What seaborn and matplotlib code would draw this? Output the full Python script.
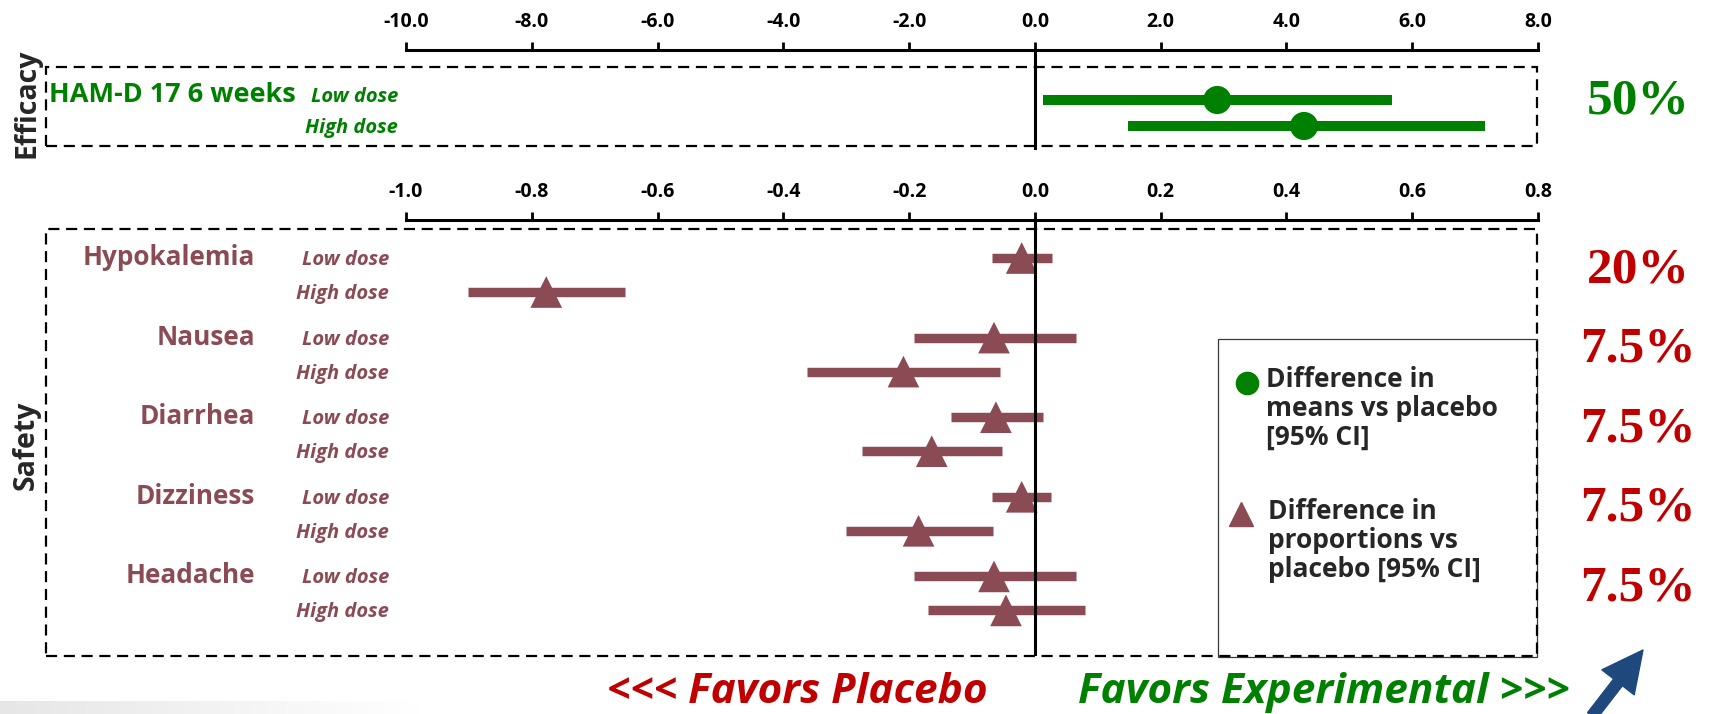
import numpy as np
import pandas as pd
import matplotlib.pyplot as plt
import seaborn as sns
from matplotlib.patches import Rectangle
from matplotlib.lines import Line2D
from matplotlib.transforms import blended_transform_factory
from matplotlib.colors import LinearSegmentedColormap

# Efficacy: HAM-D 17 at 6 weeks, difference in means vs placebo
eff_label = 'HAM-D 17 6 weeks'
eff_doses = ['Low dose', 'High dose']
eff_est = [2.90, 4.28]
eff_lo = [0.13, 1.48]
eff_hi = [5.68, 7.15]
eff_pct = '50%'

# Safety: difference in proportions vs placebo
ae_names = ['Hypokalemia', 'Nausea', 'Diarrhea', 'Dizziness', 'Headache']
low_est = [-0.021, -0.065, -0.062, -0.021, -0.065]
low_lo = [-0.068, -0.192, -0.134, -0.068, -0.192]
low_hi = [0.027, 0.065, 0.013, 0.026, 0.065]
high_est = [-0.777, -0.209, -0.164, -0.185, -0.046]
high_lo = [-0.901, -0.363, -0.275, -0.300, -0.170]
high_hi = [-0.651, -0.056, -0.052, -0.067, 0.079]
ae_pct = ['20%', '7.5%', '7.5%', '7.5%', '7.5%']

top_ticks = [-10, -8, -6, -4, -2, 0, 2, 4, 6, 8]
bottom_ticks = [-1.0, -0.8, -0.6, -0.4, -0.2, 0.0, 0.2, 0.4, 0.6, 0.8]

GREEN = '#008000'
MAROON = '#8B4B55'
RED = '#C00000'
BLUE = '#1F497D'

sns.set_style('white')
plt.rcParams['font.family'] = ['Open Sans', 'DejaVu Sans']

W, H = 1709, 714
fig = plt.figure(figsize=(W / 100, H / 100), dpi=100)


def fx(px):
    return px / W


def fy(py):
    return 1 - py / H


def px_axes(left, top, right, bottom):
    ax = fig.add_axes([fx(left), fy(bottom), (right - left) / W, (bottom - top) / H])
    ax.set_facecolor('none')
    return ax


def style_axis(ax, ticks, fmt):
    ax.xaxis.tick_top()
    ax.set_xticks(ticks, [fmt % t for t in ticks], fontweight='bold', fontsize=14)
    ax.tick_params(axis='x', direction='out', length=6, width=2, pad=7, colors='black')
    ax.set_yticks([])
    for side in ['left', 'right', 'bottom']:
        ax.spines[side].set_visible(False)
    ax.spines['top'].set_linewidth(2.2)
    ax.spines['top'].set_color('black')
    ax.set(xlabel='', ylabel='')


def dashed_box(left, top, right, bottom):
    fig.add_artist(Rectangle((fx(left), fy(bottom)), (right - left) / W, (bottom - top) / H,
                             transform=fig.transFigure, fill=False, ec='black',
                             lw=1.6, ls=(0, (5, 3))))


# ---------------- Efficacy panel ----------------
eff_df = pd.DataFrame({'dose': eff_doses, 'est': eff_est, 'lo': eff_lo, 'hi': eff_hi})
eff_df['y'] = np.arange(len(eff_df))

ax_top = px_axes(406, 50, 1538, 150)
ax_top.hlines(eff_df['y'], eff_df['lo'], eff_df['hi'], color=GREEN, lw=7.2,
              capstyle='butt', zorder=2)
sns.scatterplot(data=eff_df, x='est', y='y', marker='o', s=410, color=GREEN,
                edgecolor='none', linewidth=0, ax=ax_top, zorder=3, legend=False)
ax_top.axvline(0, color='black', lw=2.2, zorder=4)
ax_top.set_xlim(-10, 8)
pitch = 26
ax_top.set_ylim((150 - 100) / pitch, (50 - 100) / pitch)
style_axis(ax_top, top_ticks, '%.1f')

tr_top = blended_transform_factory(fig.transFigure, ax_top.transData)
lab_rows = [0.08, 1.27]
fig.text(fx(49), 0.08, eff_label, transform=tr_top, color=GREEN, fontsize=19.5,
         fontweight='bold', ha='left', va='baseline')
for d, yy in zip(eff_df['dose'], lab_rows):
    fig.text(fx(398), yy, d, transform=tr_top, color=GREEN, fontsize=14.5,
             fontweight='bold', fontstyle='italic', ha='right', va='baseline')
fig.text(fx(1638), 0.5, eff_pct, transform=tr_top, color=GREEN,
         fontsize=37, fontweight='bold', family='Liberation Serif', ha='center', va='baseline')

# ---------------- Safety panel ----------------
PAIR = 34 / 79.6
rows = []
for i, name in enumerate(ae_names):
    rows.append(dict(ae=name, dose='Low dose', y=i, est=low_est[i], lo=low_lo[i], hi=low_hi[i]))
    rows.append(dict(ae=name, dose='High dose', y=i + PAIR, est=high_est[i], lo=high_lo[i], hi=high_hi[i]))
saf_df = pd.DataFrame(rows)

ax_bot = px_axes(406, 220, 1538, 656)
ax_bot.hlines(saf_df['y'], saf_df['lo'], saf_df['hi'], color=MAROON, lw=6.8,
              capstyle='butt', zorder=2)
sns.scatterplot(data=saf_df, x='est', y='y', marker='^', s=520, color=MAROON,
                edgecolor='none', linewidth=0, ax=ax_bot, zorder=3, legend=False)
ax_bot.axvline(0, color='black', lw=2.2, zorder=4)
ax_bot.set_xlim(-1.0, 0.8)
gp = 79.6
ax_bot.set_ylim((656 - 258) / gp, (220 - 258) / gp)
style_axis(ax_bot, bottom_ticks, '%.1f')

tr_bot = blended_transform_factory(fig.transFigure, ax_bot.transData)
off = 7 / gp
for _, r in saf_df.iterrows():
    if r['dose'] == 'Low dose':
        fig.text(fx(255), r['y'] + off, r['ae'], transform=tr_bot, color=MAROON,
                 fontsize=18.8, fontweight='bold', ha='right', va='baseline')
    fig.text(fx(389), r['y'] + off, r['dose'], transform=tr_bot, color=MAROON,
             fontsize=14.5, fontweight='bold', fontstyle='italic', ha='right', va='baseline')
for i, p in enumerate(ae_pct):
    fig.text(fx(1638), i + PAIR / 2 + 0.09, p, transform=tr_bot, color=RED,
             fontsize=37, fontweight='bold', family='Liberation Serif', ha='center', va='baseline')

# boxes
dashed_box(46, 67, 1537, 146)
fig.add_artist(Rectangle((fx(1218), fy(657)), (1537 - 1218) / W, (657 - 339) / H,
                         transform=fig.transFigure, fc='white', ec='#3a3a3a', lw=0.9, zorder=0.5))
dashed_box(46, 229, 1537, 656)

# section labels
fig.text(fx(27), fy(103), 'Efficacy', rotation=90, fontsize=20.5, fontweight='bold',
         ha='center', va='center')
fig.text(fx(26), fy(445), 'Safety', rotation=90, fontsize=20.5, fontweight='bold',
         ha='center', va='center')

# legend
fig.add_artist(Line2D([fx(1247)], [fy(383)], marker='o', ms=16, color=GREEN, ls='none',
                      transform=fig.transFigure))
fig.add_artist(Line2D([fx(1241)], [fy(514)], marker='^', ms=17, color=MAROON, ls='none',
                      transform=fig.transFigure))
fig.text(fx(1266), fy(366), 'Difference in\nmeans vs placebo\n[95% CI]', fontsize=19,
         fontweight='bold', ha='left', va='top', linespacing=1.1)
fig.text(fx(1268), fy(498), 'Difference in\nproportions vs\nplacebo [95% CI]', fontsize=19,
         fontweight='bold', ha='left', va='top', linespacing=1.1)

# favors labels
fig.text(fx(607), fy(703), '<<< Favors Placebo', color=RED, fontsize=30.5,
         fontweight='bold', fontstyle='italic', ha='left', va='baseline')
fig.text(fx(1078), fy(703), 'Favors Experimental >>>', color=GREEN, fontsize=30.5,
         fontweight='bold', fontstyle='italic', ha='left', va='baseline')

# arrow
fig.add_artist(plt.Annotation('', xy=(fx(1643), fy(650)), xytext=(fx(1592), fy(716)),
                              xycoords='figure fraction', textcoords='figure fraction',
                              arrowprops=dict(arrowstyle='simple,head_width=1.4,head_length=1.4,tail_width=0.38',
                                              mutation_scale=21, color=BLUE, shrinkA=0, shrinkB=0)))

# faint slide band at bottom left
band = fig.add_axes([0, 0, fx(420), 13 / H], zorder=-1)
band.imshow(np.linspace(0, 1, 200)[None, :], aspect='auto',
            cmap=LinearSegmentedColormap.from_list('g', ['#e6e6e6', '#ffffff']))
band.axis('off')

fig.savefig('out.png', dpi=100)
